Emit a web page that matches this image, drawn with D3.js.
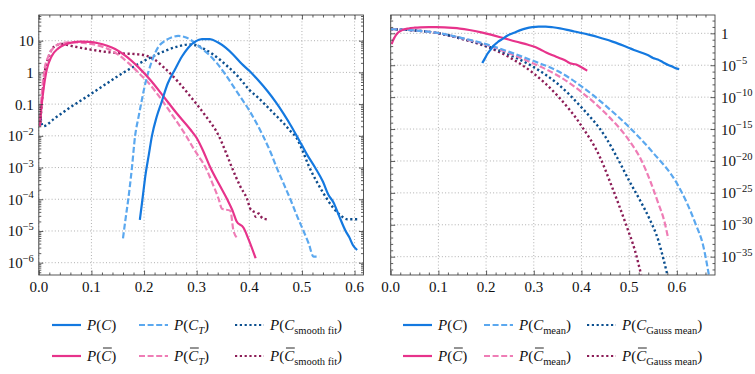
<!DOCTYPE html>
<html>
<head>
<meta charset="utf-8">
<script src="https://cdn.jsdelivr.net/npm/d3@7"></script>
<style>
body { margin: 0; background: #fff; }
svg { display: block; }
</style>
</head>
<body>
<div id="chart"></div>
<script>
// all series are [x, log10 P] pairs

// measured distributions (shared by both panels)
let pC = [[0.192,-4.65],[0.197,-4.0],[0.203,-3.2],[0.209,-2.6],[0.215,-2.0],[0.224,-1.4],[0.233,-0.95],
    [0.245,-0.35],[0.259,0.1],[0.272,0.5],[0.284,0.78],[0.297,0.97],[0.31,1.05],[0.325,1.05],[0.34,0.95],
    [0.355,0.78],[0.37,0.55],[0.385,0.28],[0.4,0.05],[0.417,-0.25],[0.434,-0.58],[0.45,-0.93],[0.465,-1.3],
    [0.478,-1.65],[0.49,-2.0],[0.5,-2.3],[0.51,-2.6],[0.525,-3.0],[0.54,-3.45],[0.55,-3.85],[0.56,-4.1],
    [0.57,-4.5],[0.583,-5.0],[0.59,-5.2],[0.597,-5.45],[0.605,-5.6]];
let pCbar = [[0.002,-1.7],[0.005,-1.1],[0.008,-0.66],[0.015,0.08],[0.024,0.5],[0.037,0.76],[0.05,0.88],
    [0.062,0.94],[0.08,0.97],[0.095,0.96],[0.113,0.92],[0.13,0.84],[0.145,0.74],[0.165,0.52],[0.19,0.15],
    [0.212,-0.24],[0.237,-0.76],[0.262,-1.29],[0.288,-1.8],[0.3,-2.07],[0.313,-2.5],[0.326,-3.0],[0.345,-3.6],
    [0.358,-4.0],[0.368,-4.35],[0.376,-4.7],[0.389,-4.9],[0.399,-5.28],[0.412,-5.86]];

// left panel models
let pCT = [[0.16,-5.23],[0.165,-4.6],[0.17,-4.0],[0.177,-3.0],[0.183,-2.0],[0.189,-1.45],[0.195,-0.94],
    [0.201,-0.45],[0.208,0.0],[0.217,0.45],[0.227,0.8],[0.24,1.0],[0.252,1.1],[0.265,1.15],[0.28,1.1],
    [0.295,0.95],[0.306,0.8],[0.322,0.58],[0.338,0.3],[0.354,-0.05],[0.37,-0.45],[0.385,-0.82],[0.4,-1.2],
    [0.413,-1.58],[0.426,-2.0],[0.44,-2.5],[0.452,-3.0],[0.465,-3.5],[0.478,-4.0],[0.49,-4.5],[0.503,-5.0],
    [0.513,-5.4],[0.522,-5.81],[0.533,-5.81]];
let pCbarT = [[0.002,-1.5],[0.005,-0.8],[0.01,0.0],[0.018,0.5],[0.028,0.78],[0.04,0.9],[0.055,0.95],
    [0.07,0.95],[0.09,0.92],[0.11,0.86],[0.13,0.75],[0.15,0.57],[0.17,0.3],[0.19,-0.02],[0.212,-0.4],
    [0.235,-0.9],[0.258,-1.45],[0.28,-2.0],[0.294,-2.4],[0.306,-2.7],[0.317,-3.0],[0.33,-3.5],[0.342,-4.0],
    [0.348,-4.3],[0.364,-4.36],[0.37,-5.0],[0.378,-5.23]];
let pCsmooth = [[0.002,-1.3],[0.008,-1.7],[0.03,-1.45],[0.06,-1.1],[0.09,-0.78],[0.12,-0.45],[0.15,-0.12],
    [0.18,0.18],[0.21,0.45],[0.24,0.68],[0.265,0.82],[0.285,0.88],[0.3,0.85],[0.313,0.75],[0.33,0.58],
    [0.345,0.39],[0.36,0.17],[0.377,-0.1],[0.39,-0.35],[0.4,-0.55],[0.417,-0.8],[0.434,-1.08],[0.45,-1.35],
    [0.465,-1.6],[0.478,-1.85],[0.49,-2.07],[0.502,-2.5],[0.513,-2.95],[0.53,-3.5],[0.548,-4.0],[0.56,-4.28],
    [0.573,-4.5],[0.586,-4.63],[0.61,-4.63]];
let pCbarSmooth = [[0.003,-1.6],[0.006,-0.9],[0.012,0.08],[0.018,0.45],[0.024,0.71],[0.033,0.85],[0.043,0.9],
    [0.055,0.86],[0.069,0.81],[0.095,0.73],[0.126,0.65],[0.157,0.6],[0.189,0.57],[0.205,0.52],[0.22,0.4],
    [0.24,0.12],[0.265,-0.3],[0.29,-0.8],[0.316,-1.35],[0.342,-2.0],[0.355,-2.5],[0.367,-3.0],[0.383,-3.6],
    [0.396,-4.0],[0.402,-4.3],[0.408,-4.38],[0.412,-4.55],[0.418,-4.45],[0.425,-4.6],[0.434,-4.63]];

// right panel models
let pCmean = [[0,0.65],[0.05,0.45],[0.1,0.05],[0.15,-0.75],[0.2,-1.7],[0.25,-2.95],[0.3,-4.35],[0.35,-5.9],
    [0.4,-8.3],[0.45,-11.3],[0.5,-14.7],[0.55,-18.7],[0.6,-23.5],[0.62,-26.4],[0.64,-30],[0.655,-33.2],[0.667,-37.8]];
let pCbarMean = [[0,0.65],[0.05,0.45],[0.1,0.03],[0.15,-0.8],[0.2,-1.8],[0.25,-3.15],[0.3,-4.75],[0.35,-6.6],
    [0.4,-9.2],[0.45,-12.5],[0.5,-16.8],[0.525,-19.8],[0.545,-23.3],[0.56,-26.4],[0.575,-29.8],[0.582,-32.2]];
let pCgauss = [[0,0.65],[0.05,0.45],[0.1,0.02],[0.15,-0.85],[0.2,-1.95],[0.25,-3.4],[0.3,-5.3],[0.35,-7.9],
    [0.4,-11.6],[0.45,-16.2],[0.475,-19.5],[0.5,-23.1],[0.523,-26.2],[0.544,-29.3],[0.561,-32.4],[0.572,-35.4],[0.58,-37.8]];
let pCbarGauss = [[0,0.65],[0.05,0.45],[0.1,0.0],[0.15,-0.9],[0.2,-2.05],[0.25,-3.8],[0.3,-6.3],[0.35,-9.8],
    [0.4,-14.5],[0.44,-19.6],[0.46,-23.3],[0.478,-26.8],[0.495,-30.3],[0.512,-34],[0.525,-37.8]];

// ticks
let xTicks = [0, 0.1, 0.2, 0.3, 0.4, 0.5, 0.6];
let xTickLabels = ["0.0", "0.1", "0.2", "0.3", "0.4", "0.5", "0.6"];
let leftYTicks = [-6, -5, -4, -3, -2, -1, 0, 1];
let leftYLabels = ["10^\u22126", "10^\u22125", "10^\u22124", "10^\u22123", "10^\u22122", "0.1", "1", "10"];
let rightYTicks = [-35, -30, -25, -20, -15, -10, -5, 0];
let rightYLabels = ["10^\u221235", "10^\u221230", "10^\u221225", "10^\u221220", "10^\u221215", "10^\u221210", "10^\u22125", "1"];

let blue = "#1479e0", lightBlue = "#5ba8ef", darkBlue = "#0b4f8f";
let pink = "#e7338b", lightPink = "#ef7db6", plum = "#8c1d57";
let dashed = "6,2.6", dotted = "2.2,2.6";
let serif = "'Liberation Serif', 'Times New Roman', 'DejaVu Serif', serif";

let svg = d3.select("#chart").append("svg")
    .attr("width", 755)
    .attr("height", 374)
    .attr("font-family", serif);
svg.append("rect").attr("width", 755).attr("height", 374).attr("fill", "#fff");

// label like "10^-5" -> 10 with superscript
function powLabel(t, s) {
    let parts = s.split("^");
    t.append("tspan").text(parts[0]);
    if (parts.length > 1) {
        t.append("tspan").attr("dy", -6.5).attr("font-size", 10.5).text(parts[1]);
    }
}

// math style legend label, parts: {t, it, sub, bar}
function mathLabel(g, x, y, parts) {
    let t = g.append("text").attr("x", x).attr("y", y)
        .attr("font-size", 15).attr("font-family", serif).attr("fill", "#111");
    let idx = 0, bars = [], down = false;
    parts.forEach(function (p) {
        let ts = t.append("tspan").text(p.t);
        if (p.it) ts.attr("font-style", "italic");
        if (p.sub) {
            ts.attr("font-size", 10.5);
            if (!down) { ts.attr("dy", 4); down = true; }
        } else if (down) {
            ts.attr("dy", -4); down = false;
        }
        if (p.bar) bars.push(idx);
        idx += p.t.length;
    });
    bars.forEach(function (i) {
        let e = t.node().getExtentOfChar(i);
        g.append("line")
            .attr("x1", e.x + 1.8).attr("x2", e.x + e.width + 0.6)
            .attr("y1", y - 13).attr("y2", y - 13)
            .attr("stroke", "#111").attr("stroke-width", 0.9);
    });
}

let panels = [
    {
        left: 38.8, right: 363.5, top: 15, bottom: 275,
        xMax: 0.617, yMin: -6.388, yMax: 1.81,
        yTicks: leftYTicks, yLabels: leftYLabels, labelSide: "left",
        yMinor: "log",
        series: [
            {data: pCbarSmooth, color: plum, dash: dotted, w: 2.4},
            {data: pCsmooth, color: darkBlue, dash: dotted, w: 2.4},
            {data: pCbarT, color: lightPink, dash: dashed, w: 2.2},
            {data: pCT, color: lightBlue, dash: dashed, w: 2.2},
            {data: pCbar, color: pink, dash: null, w: 2.2},
            {data: pC, color: blue, dash: null, w: 2.2}
        ],
        legendX: [52, 139, 235],
        legend: [
            {color: blue, dash: null, parts: [{t: "P", it: 1}, {t: "("}, {t: "C", it: 1}, {t: ")"}]},
            {color: lightBlue, dash: dashed, parts: [{t: "P", it: 1}, {t: "("}, {t: "C", it: 1}, {t: "T", it: 1, sub: 1}, {t: ")"}]},
            {color: darkBlue, dash: dotted, parts: [{t: "P", it: 1}, {t: "("}, {t: "C", it: 1}, {t: "smooth fit", sub: 1}, {t: ")"}]},
            {color: pink, dash: null, parts: [{t: "P", it: 1}, {t: "("}, {t: "C", it: 1, bar: 1}, {t: ")"}]},
            {color: lightPink, dash: dashed, parts: [{t: "P", it: 1}, {t: "("}, {t: "C", it: 1, bar: 1}, {t: "T", it: 1, sub: 1}, {t: ")"}]},
            {color: plum, dash: dotted, parts: [{t: "P", it: 1}, {t: "("}, {t: "C", it: 1, bar: 1}, {t: "smooth fit", sub: 1}, {t: ")"}]}
        ]
    },
    {
        left: 390.7, right: 715, top: 15, bottom: 275,
        xMax: 0.68, yMin: -37.87, yMax: 2.87,
        yTicks: rightYTicks, yLabels: rightYLabels, labelSide: "right",
        yMinor: "decade",
        series: [
            {data: pCbarGauss, color: plum, dash: dotted, w: 2.4},
            {data: pCgauss, color: darkBlue, dash: dotted, w: 2.4},
            {data: pCbarMean, color: lightPink, dash: dashed, w: 2.2},
            {data: pCmean, color: lightBlue, dash: dashed, w: 2.2},
            {data: pCbar, color: pink, dash: null, w: 2.2},
            {data: pC, color: blue, dash: null, w: 2.2}
        ],
        legendX: [403, 484, 587],
        legend: [
            {color: blue, dash: null, parts: [{t: "P", it: 1}, {t: "("}, {t: "C", it: 1}, {t: ")"}]},
            {color: lightBlue, dash: dashed, parts: [{t: "P", it: 1}, {t: "("}, {t: "C", it: 1}, {t: "mean", sub: 1}, {t: ")"}]},
            {color: darkBlue, dash: dotted, parts: [{t: "P", it: 1}, {t: "("}, {t: "C", it: 1}, {t: "Gauss mean", sub: 1}, {t: ")"}]},
            {color: pink, dash: null, parts: [{t: "P", it: 1}, {t: "("}, {t: "C", it: 1, bar: 1}, {t: ")"}]},
            {color: lightPink, dash: dashed, parts: [{t: "P", it: 1}, {t: "("}, {t: "C", it: 1, bar: 1}, {t: "mean", sub: 1}, {t: ")"}]},
            {color: plum, dash: dotted, parts: [{t: "P", it: 1}, {t: "("}, {t: "C", it: 1, bar: 1}, {t: "Gauss mean", sub: 1}, {t: ")"}]}
        ]
    }
];

panels.forEach(function (p, pi) {
    let x = d3.scaleLinear().domain([0, p.xMax]).range([p.left, p.right]);
    let y = d3.scaleLog().domain([Math.pow(10, p.yMin), Math.pow(10, p.yMax)]).range([p.bottom, p.top]);
    let g = svg.append("g");

    let majorY = p.yTicks.map(function (e) { return Math.pow(10, e); });
    let minorY = [];
    let dLo = Math.floor(p.yMin), dHi = Math.ceil(p.yMax);
    for (let d = dLo; d <= dHi; d++) {
        if (p.yMinor == "log") {
            for (let m = 2; m <= 9; m++) minorY.push(m * Math.pow(10, d));
        } else if (d % 5 != 0) {
            minorY.push(Math.pow(10, d));
        }
    }
    minorY = minorY.filter(function (v) { return v > y.domain()[0] && v < y.domain()[1]; });
    let minorX = d3.range(0, p.xMax, 0.02).filter(function (v) { return Math.abs(v * 10 - Math.round(v * 10)) > 0.01; });

    // grid
    g.selectAll(".gx").data(xTicks).enter().append("line")
        .attr("x1", function (d) { return x(d); }).attr("x2", function (d) { return x(d); })
        .attr("y1", p.top).attr("y2", p.bottom)
        .attr("stroke", "#a8a8a8").attr("stroke-width", 0.9).attr("stroke-dasharray", "1,2.2");
    g.selectAll(".gy").data(majorY).enter().append("line")
        .attr("x1", p.left).attr("x2", p.right)
        .attr("y1", function (d) { return y(d); }).attr("y2", function (d) { return y(d); })
        .attr("stroke", "#a8a8a8").attr("stroke-width", 0.9).attr("stroke-dasharray", "1,2.2");

    // curves
    let clipId = "clip" + pi;
    svg.append("clipPath").attr("id", clipId).append("rect")
        .attr("x", p.left).attr("y", p.top)
        .attr("width", p.right - p.left).attr("height", p.bottom - p.top);
    let line = d3.line()
        .x(function (d) { return x(d[0]); })
        .y(function (d) { return y(Math.pow(10, d[1])); })
        .curve(d3.curveMonotoneX);
    let curves = g.append("g").attr("clip-path", "url(#" + clipId + ")");
    p.series.forEach(function (s) {
        curves.append("path")
            .attr("d", line(s.data))
            .attr("fill", "none")
            .attr("stroke", s.color)
            .attr("stroke-width", s.w)
            .attr("stroke-dasharray", s.dash);
    });

    // ticks on all four sides, pointing in
    function tickAxis(axis, tr) {
        let a = g.append("g").attr("transform", tr).call(axis);
        a.select(".domain").remove();
        a.selectAll("line").attr("stroke", "#333").attr("stroke-width", 0.8);
        a.selectAll("text").remove();
    }
    tickAxis(d3.axisBottom(x).tickValues(xTicks).tickSize(-4.5), "translate(0," + p.bottom + ")");
    tickAxis(d3.axisBottom(x).tickValues(minorX).tickSize(-2.5), "translate(0," + p.bottom + ")");
    tickAxis(d3.axisTop(x).tickValues(xTicks).tickSize(-4.5), "translate(0," + p.top + ")");
    tickAxis(d3.axisTop(x).tickValues(minorX).tickSize(-2.5), "translate(0," + p.top + ")");
    tickAxis(d3.axisLeft(y).tickValues(majorY).tickSize(-4.5), "translate(" + p.left + ",0)");
    tickAxis(d3.axisLeft(y).tickValues(minorY).tickSize(-2.5), "translate(" + p.left + ",0)");
    tickAxis(d3.axisRight(y).tickValues(majorY).tickSize(-4.5), "translate(" + p.right + ",0)");
    tickAxis(d3.axisRight(y).tickValues(minorY).tickSize(-2.5), "translate(" + p.right + ",0)");

    // frame
    g.append("rect")
        .attr("x", p.left).attr("y", p.top)
        .attr("width", p.right - p.left).attr("height", p.bottom - p.top)
        .attr("fill", "none").attr("stroke", "#444").attr("stroke-width", 0.9);

    // tick labels
    xTicks.forEach(function (v, i) {
        g.append("text").attr("x", x(v)).attr("y", p.bottom + 17)
            .attr("text-anchor", "middle").attr("font-size", 15)
            .attr("font-family", serif).attr("fill", "#111")
            .text(xTickLabels[i]);
    });
    p.yTicks.forEach(function (e, i) {
        let t = g.append("text").attr("y", y(Math.pow(10, e)) + 5.5)
            .attr("font-size", 15).attr("font-family", serif).attr("fill", "#111");
        if (p.labelSide == "left") t.attr("x", p.left - 5).attr("text-anchor", "end");
        else t.attr("x", p.right + 6).attr("text-anchor", "start");
        powLabel(t, p.yLabels[i]);
    });

    // legend, two rows of three
    p.legend.forEach(function (item, i) {
        let col = i % 3, row = Math.floor(i / 3);
        let lx = p.legendX[col], ly = 325 + row * 31;
        g.append("line")
            .attr("x1", lx).attr("x2", lx + 29)
            .attr("y1", ly).attr("y2", ly)
            .attr("stroke", item.color).attr("stroke-width", 2.2)
            .attr("stroke-dasharray", item.dash);
        mathLabel(g, lx + 35, ly + 5, item.parts);
    });
});
</script>
</body>
</html>
